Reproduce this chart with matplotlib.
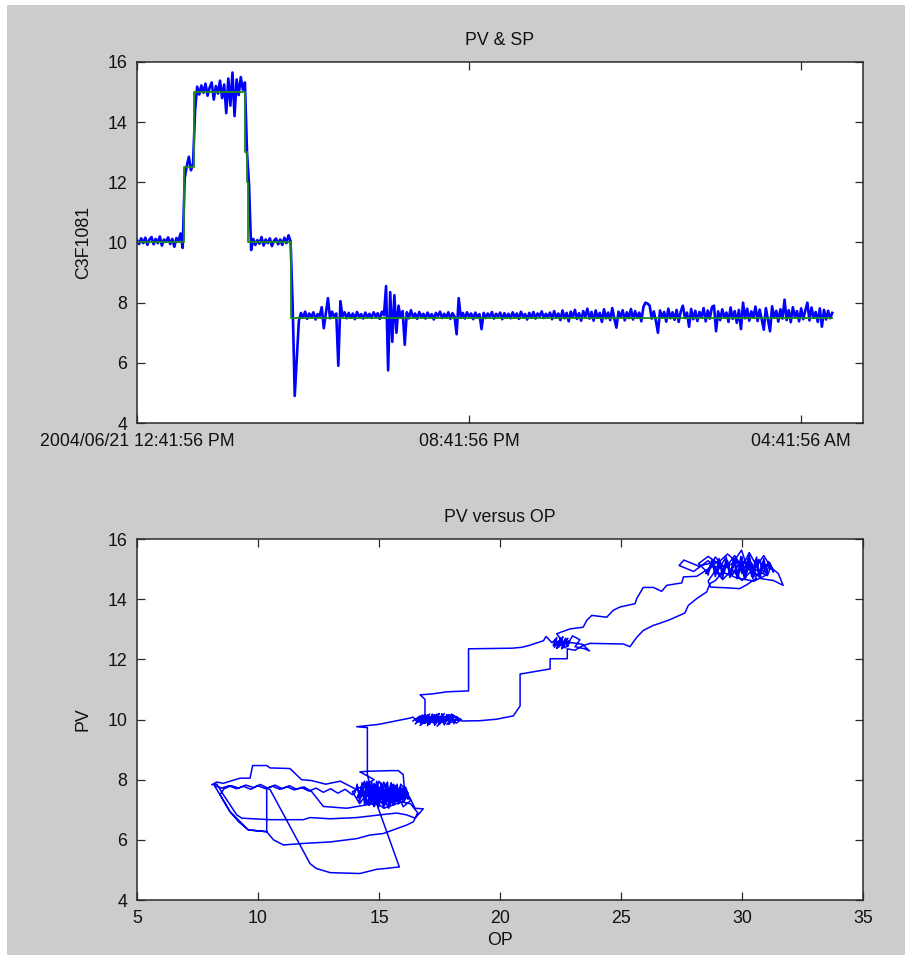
import matplotlib
matplotlib.use("Agg")
import matplotlib.pyplot as plt
from matplotlib.patches import Rectangle
from datetime import datetime, timedelta

# ---- PV trend, one sample every 3 minutes from the start time ----
START = datetime(2004, 6, 21, 12, 41, 56)
SAMPLE_MIN = 3

pv_sp10_first = [10.08, 9.95, 10.14, 9.98, 10.16, 9.92, 10.10, 10.18, 9.94, 10.12, 9.98, 10.20,
                 9.90, 10.10, 10.02, 10.17, 9.95, 10.12, 9.86, 10.15, 10.05, 10.30, 9.82]
pv_sp125 = [12.15, 12.55, 12.85, 12.40, 12.60]
pv_sp15 = [14.40, 15.18, 14.92, 15.22, 14.98, 15.28, 14.88, 15.15, 15.32, 14.75, 15.20, 14.95,
           15.38, 14.80, 15.25, 14.30, 15.45, 14.55, 15.65, 14.20, 15.42, 14.90, 15.50, 15.08, 15.32]
pv_ramp_down = [13.00, 11.90, 9.75]
pv_sp10_second = [10.12, 9.92, 10.08, 9.96, 10.18, 9.90, 10.10, 9.98, 10.14, 9.88, 10.06, 10.13,
                  9.94, 10.10, 9.92, 10.16, 9.98, 10.24, 10.04]
pv_drop = [7.90, 4.90, 6.15, 7.40]
pv_sp75 = [
    7.66, 7.50, 7.70, 7.46, 7.64, 7.52, 7.68, 7.44, 7.62, 7.55, 7.85, 7.15, 7.66, 8.15, 7.48, 7.70, 7.52, 7.64, 5.90, 8.05,
    7.55, 7.68, 7.48, 7.66, 7.50, 7.64, 7.45, 7.69, 7.53, 7.62, 7.47, 7.67, 7.52, 7.63, 7.49, 7.68, 7.54, 7.65, 7.46, 7.70,
    7.58, 8.55, 5.75, 8.35, 6.70, 8.25, 7.00, 7.90, 7.50, 7.72, 6.60, 7.68, 7.48, 7.75, 7.52, 7.64, 7.46, 7.69, 7.53, 7.63,
    7.47, 7.67, 7.52, 7.62, 7.44, 7.66, 7.55, 7.70, 7.49, 7.63, 7.51, 7.68, 7.46, 7.65, 7.54, 6.95, 8.15, 7.50, 7.66, 7.47,
    7.68, 7.53, 7.64, 7.45, 7.67, 7.51, 7.62, 7.12, 7.66, 7.49, 7.64, 7.52, 7.69, 7.47, 7.63, 7.54, 7.67, 7.45, 7.65, 7.50,
    7.63, 7.48, 7.68, 7.52, 7.64, 7.46, 7.70, 7.53, 7.62, 7.44, 7.66, 7.51, 7.69, 7.47, 7.64, 7.55, 7.71, 7.49, 7.63, 7.52,
    7.67, 7.45, 7.72, 7.50, 7.64, 7.42, 7.74, 7.48, 7.66, 7.38, 7.70, 7.51, 7.76, 7.46, 7.65, 7.40, 7.72, 7.53, 7.80, 7.47,
    7.69, 7.40, 7.74, 7.50, 7.66, 7.36, 7.78, 7.48, 7.67, 7.42, 7.82, 7.46, 7.17, 7.70, 7.52, 7.75, 7.41, 7.68, 7.49, 7.79,
    7.44, 7.72, 7.50, 7.67, 7.38, 7.86, 8.00, 7.97, 7.90, 7.47, 7.71, 7.40, 7.00, 7.74, 7.51, 7.69, 7.37, 7.80, 7.48, 7.68,
    7.43, 7.76, 7.36, 7.71, 7.90, 7.49, 7.67, 7.20, 7.79, 7.45, 7.73, 7.39, 7.69, 7.52, 7.82, 7.38, 7.74, 7.47, 7.85, 7.90,
    7.05, 7.71, 7.42, 7.78, 7.50, 7.67, 7.36, 7.84, 7.46, 7.72, 7.33, 7.76, 7.12, 8.00, 7.48, 7.80, 7.40, 7.71, 7.51, 7.87,
    7.39, 7.77, 7.45, 7.10, 7.82, 7.43, 7.05, 7.88, 7.50, 7.73, 7.37, 7.78, 7.47, 8.10, 7.42, 7.75, 7.35, 7.85, 7.52, 7.72,
    7.38, 7.81, 7.45, 7.74, 8.00, 7.41, 7.84, 7.50, 7.69, 7.36, 7.81, 7.20, 7.76, 7.44, 7.73, 7.48, 7.66,
]

# ---- SP changes (hours after start, new setpoint) ----
sp_hours = [0.0, 1.14, 1.38, 2.61, 2.64, 2.67, 3.70, 16.75]
sp_values = [10.0, 12.5, 15.0, 13.0, 12.0, 10.0, 7.5, 7.5]

# ---- PV against OP, (OP, PV) in time order ----
xy_sp10_first = [
    (16.4, 9.95), (16.7, 10.12), (16.5, 9.85), (16.9, 10.15), (16.6, 9.92), (17.1, 10.18), (16.8, 9.88),
    (17.3, 10.14), (17.0, 9.80), (17.5, 10.20), (17.2, 9.90), (17.7, 10.10), (17.4, 9.78), (17.9, 10.16),
    (17.6, 9.94), (18.1, 10.08), (17.8, 9.84), (18.3, 10.02), (18.0, 10.18), (17.7, 9.86), (17.9, 10.12),
    (17.5, 9.92), (17.7, 10.20), (17.3, 9.82), (17.5, 10.10), (17.1, 9.96), (17.3, 10.16), (16.9, 9.88),
    (17.1, 10.06), (16.7, 9.80), (16.9, 10.14), (16.5, 10.00), (16.8, 9.90), (17.2, 10.12), (17.0, 9.86),
    (17.4, 10.18), (17.6, 9.94), (17.9, 10.06), (18.2, 9.88), (18.4, 10.00), (18.0, 10.14), (17.6, 9.90),
    (17.2, 10.10), (16.6, 10.05), (16.7, 9.90), (16.8, 10.12), (16.9, 9.88), (17.0, 10.15), (17.1, 9.85),
    (17.2, 10.18), (17.3, 9.82), (17.4, 10.16), (17.5, 9.85), (17.6, 10.18), (17.7, 9.86), (17.8, 10.15),
    (17.9, 9.88), (18.0, 10.10), (18.1, 9.92), (18.2, 10.06), (18.3, 9.98), (17.6, 10.02), (16.9, 10.05),
]
xy_up_to_125 = [
    (16.9, 10.67), (16.7, 10.82), (17.2, 10.85), (17.8, 10.92), (18.7, 10.95), (18.7, 12.35),
    (20.5, 12.37), (20.9, 12.40), (21.2, 12.46), (21.8, 12.62), (21.9, 12.76),
]
xy_sp125 = [
    (22.15, 12.55), (22.35, 12.72), (22.25, 12.40), (22.5, 12.68), (22.35, 12.36), (22.6, 12.75),
    (22.45, 12.42), (22.7, 12.66), (22.55, 12.35), (22.8, 12.70), (22.6, 12.45), (22.85, 12.62),
    (22.7, 12.38), (22.4, 12.60), (22.2, 12.45), (22.3, 12.68), (22.4, 12.40), (22.5, 12.72),
    (22.6, 12.38), (22.7, 12.70), (22.8, 12.42), (22.9, 12.65), (23.0, 12.78), (23.3, 12.65),
    (23.1, 12.42), (23.5, 12.35), (23.7, 12.28), (23.4, 12.50), (23.0, 12.55), (22.6, 12.58),
]
xy_up_to_15 = [
    (22.34, 12.85), (22.89, 13.01), (23.44, 13.07), (23.58, 13.29), (23.79, 13.46), (24.41, 13.40),
    (24.68, 13.63), (24.96, 13.74), (25.58, 13.85), (25.65, 14.02), (25.92, 14.39), (26.34, 14.39),
    (26.68, 14.26), (26.89, 14.46), (27.51, 14.54), (27.58, 14.74), (28.13, 14.76),
]
xy_sp15 = [
    (28.6, 15.00), (29.0, 15.25), (28.2, 15.10), (27.6, 15.30), (27.4, 15.12), (28.0, 14.92),
    (28.6, 15.28), (29.0, 14.95), (29.3, 15.35), (29.5, 14.90), (29.8, 15.30), (30.0, 14.85),
    (30.3, 15.38), (30.5, 14.92), (30.7, 15.32), (30.9, 14.88), (31.1, 15.25), (31.3, 14.95),
    (31.0, 15.15), (30.6, 14.78), (30.4, 15.20), (30.1, 14.75), (29.9, 15.22), (29.6, 14.80),
    (29.4, 15.18), (29.1, 14.82), (28.8, 15.12), (28.5, 14.85), (28.9, 15.40), (29.3, 15.02),
    (29.7, 15.45), (30.0, 15.05), (30.3, 15.55), (30.6, 15.10), (30.9, 15.45), (31.2, 15.05),
    (31.5, 14.85), (31.7, 14.46), (31.3, 14.62), (30.8, 14.68), (30.4, 14.95), (30.0, 14.62),
    (29.6, 14.98), (29.2, 14.65), (28.9, 14.95), (28.6, 14.60), (28.7, 14.40), (29.3, 14.38),
    (29.9, 14.35), (30.2, 14.48), (30.6, 14.70), (30.2, 15.10), (29.98, 15.63), (29.7, 15.30),
    (29.4, 15.50), (29.0, 15.20), (28.6, 15.42), (28.2, 15.18), (28.5, 14.95),
    (28.6, 14.80), (28.75, 15.30), (28.9, 14.75), (29.05, 15.35), (29.2, 14.70), (29.35, 15.40),
    (29.5, 14.72), (29.65, 15.38), (29.8, 14.68), (29.95, 15.42), (30.1, 14.72), (30.25, 15.35),
    (30.4, 14.75), (30.55, 15.30), (30.7, 14.80), (30.85, 15.25), (31.0, 14.85), (31.15, 15.20),
    (31.3, 14.90), (31.2, 15.10), (31.05, 14.78), (30.9, 15.35), (30.75, 14.72), (30.6, 15.40),
    (30.45, 14.68), (30.3, 15.45), (30.15, 14.70), (30.0, 15.40), (29.85, 14.75), (29.7, 15.32),
    (29.55, 14.80), (29.4, 15.28), (29.25, 14.85), (29.1, 15.22), (28.95, 14.90), (28.8, 15.10),
    (29.0, 15.08), (29.5, 15.15), (30.0, 15.25), (30.5, 15.00), (31.0, 14.80), (30.5, 14.60),
    (29.8, 14.70), (29.2, 14.90), (28.9, 14.62), (28.68, 14.52),
]
xy_down_to_10 = [
    (28.54, 14.24), (28.13, 14.02), (27.78, 13.79), (27.64, 13.54), (27.02, 13.32), (26.61, 13.20),
    (26.34, 13.13), (25.92, 12.96), (25.65, 12.73), (25.37, 12.42), (25.10, 12.51), (23.72, 12.53),
    (23.4, 12.45), (23.1, 12.30), (22.78, 12.35), (22.78, 12.02), (22.07, 12.02), (22.07, 11.68),
    (20.83, 11.51), (20.83, 10.45), (20.55, 10.12), (19.86, 10.01), (19.17, 9.96), (18.42, 9.95),
]
xy_sp10_second = [
    (18.2, 10.10), (18.1, 9.86), (18.0, 10.14), (17.9, 9.84), (17.8, 10.16), (17.7, 9.82), (17.6, 10.18),
    (17.5, 9.84), (17.4, 10.15), (17.3, 9.86), (17.2, 10.14), (17.1, 9.88), (17.0, 10.12), (16.9, 9.90),
    (16.8, 10.15), (16.6, 9.92), (16.4, 10.08), (16.3, 10.05), (15.0, 9.84), (14.08, 9.76), (14.52, 9.73),
]
xy_sp75 = [
    # drop and first excursions
    (14.52, 8.17), (14.60, 7.90), (14.97, 7.05), (15.84, 5.10), (15.30, 5.05), (14.90, 5.02),
    (14.21, 4.88), (12.98, 4.91), (12.40, 5.05), (12.15, 5.21), (10.50, 7.67), (10.36, 7.72),
    (10.36, 6.27), (9.60, 6.33), (9.20, 6.60), (8.84, 6.94), (8.43, 7.50), (8.20, 7.80),
    (8.5, 7.72), (8.8, 7.80), (9.1, 7.70), (9.4, 7.78), (9.7, 7.68), (10.0, 7.80), (10.3, 7.70),
    (10.6, 7.78), (10.9, 7.68), (11.2, 7.76), (11.5, 7.66), (11.8, 7.74), (12.1, 7.62), (12.4, 7.72),
    (12.7, 7.58), (13.0, 7.70), (13.3, 7.55), (13.6, 7.68), (13.9, 7.50),
    # settling around the new setpoint
    (14.0, 7.55), (14.1, 7.85), (14.2, 7.25), (14.3, 7.90), (14.4, 7.20), (14.5, 7.95), (14.6, 7.15),
    (14.7, 7.92), (14.8, 7.12), (14.9, 7.95), (15.0, 7.10), (15.1, 7.90), (15.2, 7.15), (15.3, 7.88),
    (15.4, 7.12), (15.5, 7.85), (15.6, 7.18), (15.7, 7.80), (15.8, 7.20), (15.9, 7.75), (16.0, 7.25),
    (16.1, 7.65), (16.2, 7.35), (16.15, 7.55), (16.05, 7.30), (15.95, 7.70), (15.85, 7.25), (15.75, 7.85),
    (15.65, 7.22), (15.55, 7.80), (15.45, 7.20), (15.35, 7.92), (15.25, 7.18), (15.15, 7.80), (15.05, 7.25),
    (14.95, 7.85), (14.85, 7.22), (14.75, 7.75), (14.65, 7.30), (14.55, 7.82), (14.45, 7.28), (14.35, 7.70),
    (14.25, 7.40), (14.15, 7.65),
    (14.3, 7.45), (14.6, 7.80), (14.8, 7.25), (15.0, 7.75), (15.2, 7.20), (15.4, 7.70), (15.6, 7.15),
    (15.8, 7.65), (16.0, 7.25), (16.2, 7.55), (15.9, 7.85), (15.7, 7.30), (15.5, 7.90), (15.3, 7.25),
    (15.1, 7.85), (14.9, 7.30), (14.7, 7.70), (14.5, 7.20), (14.3, 7.65), (14.1, 7.40), (14.4, 7.95),
    (14.6, 7.35), (14.8, 7.88), (15.0, 7.40), (15.2, 7.92), (15.4, 7.35), (15.6, 7.80), (15.8, 7.40),
    (16.1, 7.75), (16.3, 7.30), (16.0, 7.10), (15.7, 7.60), (15.4, 7.05), (15.1, 7.55), (14.8, 7.10),
    (14.5, 7.55), (14.2, 7.20), (13.9, 7.60), (14.8, 8.00),
    (14.21, 8.26), (14.56, 8.28), (15.45, 8.30), (15.80, 8.30), (16.00, 8.17), (16.07, 7.50),
    (16.28, 7.39), (16.49, 7.05), (16.83, 7.03), (16.49, 6.72),
    (16.14, 6.83), (15.73, 6.89), (15.04, 6.83), (14.08, 6.74), (12.98, 6.70), (12.15, 6.74),
    (11.87, 6.67), (10.50, 6.67), (9.33, 6.72), (9.12, 6.83), (8.57, 7.50), (8.30, 7.85),
    (8.09, 7.83), (8.29, 7.92), (8.57, 7.88), (9.26, 8.05), (9.67, 8.05), (9.78, 8.47), (10.36, 8.47),
    (10.50, 8.39), (11.32, 8.37), (11.80, 8.00), (12.21, 7.97), (12.8, 7.85), (13.4, 7.95), (14.0, 7.70),
    (14.7, 7.45), (14.9, 7.85), (15.1, 7.35), (15.3, 7.75), (15.5, 7.30), (15.7, 7.70), (15.9, 7.35),
    (16.1, 7.65), (15.8, 7.20), (15.5, 7.60), (15.2, 7.10), (14.9, 7.55), (14.6, 7.15), (14.3, 7.60),
    (14.5, 7.90), (14.8, 7.62), (15.0, 7.95), (15.3, 7.50), (15.6, 7.85), (15.9, 7.50), (16.2, 7.40),
    (13.67, 7.05), (12.70, 7.11), (12.21, 7.61), (11.9, 7.76), (11.6, 7.68), (11.3, 7.80), (11.0, 7.70),
    (10.7, 7.82), (10.4, 7.72), (10.1, 7.84), (9.8, 7.74), (9.5, 7.82), (9.2, 7.72), (8.9, 7.80),
    (8.6, 7.70), (8.43, 7.50),
    (8.84, 6.94), (9.60, 6.33), (10.36, 6.27), (10.64, 6.00), (11.05, 5.83), (11.87, 5.88), (12.98, 5.93),
    (14.08, 6.04), (14.63, 6.16), (15.18, 6.21), (16.14, 6.49), (16.42, 6.60), (16.6, 6.90), (16.3, 7.20),
    (14.7, 7.45), (15.3, 7.80), (14.4, 7.20), (15.6, 7.55), (14.9, 7.30), (16.0, 7.70), (14.3, 7.60),
    (15.2, 7.05), (15.9, 7.25), (14.6, 7.85), (15.5, 7.40), (15.0, 7.65), (14.6, 7.35), (15.2, 7.60),
    (15.4, 7.28),
]

BG = "#cccccc"
PV_BLUE = "#0000ff"
SP_GREEN = "#1a8c1a"
FS = 12.8
INK = "#111111"

plt.rcParams["font.family"] = ["Liberation Sans", "DejaVu Sans"]
plt.rcParams["font.size"] = FS

fig = plt.figure(figsize=(9.05, 9.55), dpi=100, facecolor=BG)
# thin white margin along the top and left edge
fig.patches.append(Rectangle((0, 0), 7 / 905, 1, transform=fig.transFigure,
                             facecolor="white", edgecolor="none", zorder=-1))
fig.patches.append(Rectangle((0, 1 - 5 / 955), 1, 5 / 955, transform=fig.transFigure,
                             facecolor="white", edgecolor="none", zorder=-1))


def matlab_axes(rect):
    ax = fig.add_axes(rect)
    ax.set_facecolor("white")
    for s in ax.spines.values():
        s.set_color("#2a2a2a")
        s.set_linewidth(1.1)
    ax.tick_params(direction="in", length=5.8, width=0.9, color="#2a2a2a",
                   top=True, right=True, labelsize=FS, labelcolor=INK, pad=7)
    return ax


ax1 = matlab_axes([137 / 905, 1 - 423 / 955, 726 / 905, 361 / 955])
ax2 = matlab_axes([137 / 905, 1 - 900 / 955, 726 / 905, 361 / 955])

# trend
pv = (pv_sp10_first + pv_sp125 + pv_sp15 + pv_ramp_down
      + pv_sp10_second + pv_drop + pv_sp75)
t_pv = [START + timedelta(minutes=SAMPLE_MIN * i) for i in range(len(pv))]
t_sp = [START + timedelta(hours=h) for h in sp_hours]
ax1.plot(t_pv, pv, color=PV_BLUE, lw=1.9)
ax1.plot(t_sp, sp_values, color=SP_GREEN, lw=1.3, drawstyle="steps-post")
ax1.set_xlim(START, START + timedelta(hours=17.49))
ax1.set_ylim(4, 16)
ax1.set_yticks(range(4, 17, 2))
ticks = [START + timedelta(hours=h) for h in (0, 8, 16)]
labels = [ticks[0].strftime("%Y/%m/%d %I:%M:%S %p")] + [t.strftime("%I:%M:%S %p") for t in ticks[1:]]
ax1.set_xticks(ticks)
ax1.set_xticklabels(labels)
ax1.set_title("PV & SP", fontsize=FS, pad=12, color=INK)
ax1.set_ylabel("C3F1081", fontsize=FS, color=INK)
ax1.yaxis.set_label_coords(-0.062, 0.5)

# PV against OP
xy = (xy_sp10_first + xy_up_to_125 + xy_sp125 + xy_up_to_15 + xy_sp15
      + xy_down_to_10 + xy_sp10_second + xy_sp75)
op_vals = [p[0] for p in xy]
pv_vals = [p[1] for p in xy]
ax2.plot(op_vals, pv_vals, color=PV_BLUE, lw=1.1)
ax2.set_xlim(5, 35)
ax2.set_ylim(4, 16)
ax2.set_xticks(range(5, 36, 5))
ax2.set_yticks(range(4, 17, 2))
ax2.set_title("PV versus OP", fontsize=FS, pad=12, color=INK)
ax2.set_xlabel("OP", fontsize=FS, color=INK, labelpad=4)
ax2.set_ylabel("PV", fontsize=FS, color=INK)
ax2.yaxis.set_label_coords(-0.062, 0.5)

fig.savefig("out.png", dpi=100, facecolor=BG)
